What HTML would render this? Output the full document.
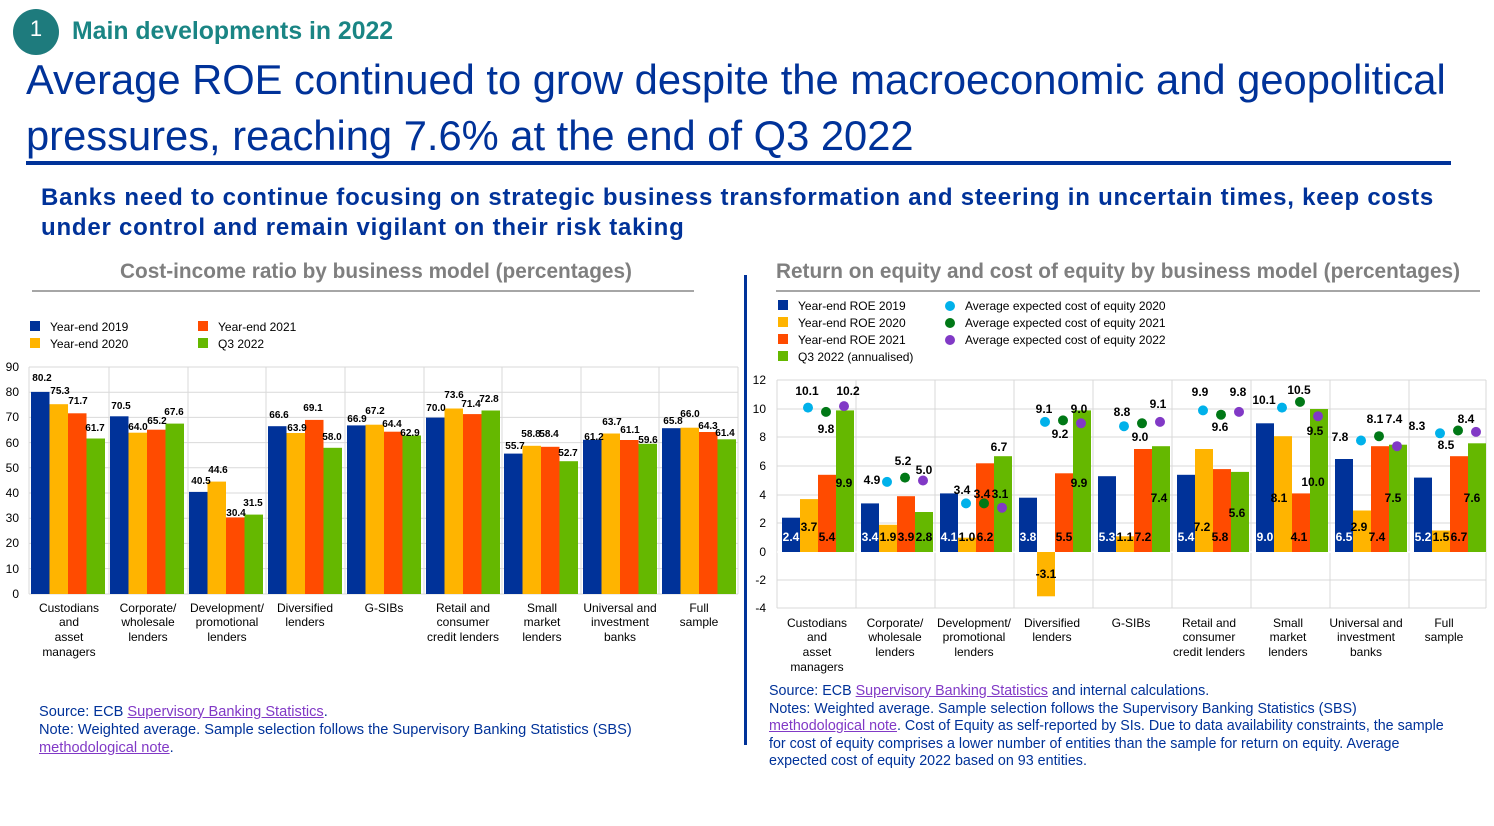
<!DOCTYPE html>
<html><head><meta charset="utf-8"><style>
body{margin:0;width:1494px;height:826px;background:#fff;font-family:"Liberation Sans",sans-serif;overflow:hidden;position:relative}
.a{position:absolute;white-space:nowrap}
a{color:#8139c6;text-decoration:underline}
</style></head><body>
<div class="a" style="left:13px;top:9px;width:46px;height:46px;border-radius:50%;background:#1e7b7d;color:#fff;font-size:22px;text-align:center;line-height:40px">1</div>
<div class="a" style="left:72px;top:18px;color:#1a8584;font-size:24.8px;font-weight:bold">Main developments in 2022</div>
<div class="a" style="left:26px;top:52px;color:#003299;font-size:41.7px;line-height:56px">Average ROE continued to grow despite the macroeconomic and geopolitical<br>pressures, reaching 7.6% at the end of Q3 2022</div>
<div class="a" style="left:26px;top:161px;width:1425px;height:4px;background:#003299"></div>
<div class="a" style="left:41px;top:183px;color:#003299;font-size:24px;font-weight:bold;line-height:30px;letter-spacing:0.78px">Banks need to continue focusing on strategic business transformation and steering in uncertain times, keep costs<br>under control and remain vigilant on their risk taking</div>
<div class="a" style="left:744px;top:275px;width:3px;height:470px;background:#003299"></div>
<div class="a" style="left:39px;top:703px;color:#003299;font-size:14.6px;line-height:18px">Source: ECB <a>Supervisory Banking Statistics</a>.<br>Note: Weighted average. Sample selection follows the Supervisory Banking Statistics (SBS)<br><a>methodological note</a>.</div>
<div class="a" style="left:769px;top:683px;color:#003299;font-size:14.3px;line-height:17.5px">Source: ECB <a>Supervisory Banking Statistics</a> and internal calculations.<br>Notes: Weighted average. Sample selection follows the Supervisory Banking Statistics (SBS)<br><a>methodological note</a>. Cost of Equity as self-reported by SIs. Due to data availability constraints, the sample<br>for cost of equity comprises a lower number of entities than the sample for return on equity. Average<br>expected cost of equity 2022 based on 93 entities.</div>
<svg class="a" style="left:0;top:0" width="1494" height="826" font-family="Liberation Sans, sans-serif">
<g font-size="20.8" font-weight="bold" fill="#7f7f7f">
<text x="376" y="278" text-anchor="middle">Cost-income ratio by business model (percentages)</text>
<text x="1118" y="278" text-anchor="middle">Return on equity and cost of equity by business model (percentages)</text></g>
<rect x="32" y="290" width="662" height="2" fill="#a6a6a6"/><rect x="776" y="290" width="704" height="2" fill="#a6a6a6"/>
<g font-size="12" fill="#000">
<rect x="30" y="321" width="10" height="10" fill="#003299"/><text x="50" y="331">Year-end 2019</text>
<rect x="30" y="338" width="10" height="10" fill="#FFB400"/><text x="50" y="348">Year-end 2020</text>
<rect x="198" y="321" width="10" height="10" fill="#FF4B00"/><text x="218" y="331">Year-end 2021</text>
<rect x="198" y="338" width="10" height="10" fill="#65B800"/><text x="218" y="348">Q3 2022</text>
<rect x="778" y="300" width="10" height="10" fill="#003299"/><text x="798" y="310">Year-end ROE 2019</text>
<rect x="778" y="317" width="10" height="10" fill="#FFB400"/><text x="798" y="327">Year-end ROE 2020</text>
<rect x="778" y="334" width="10" height="10" fill="#FF4B00"/><text x="798" y="344">Year-end ROE 2021</text>
<rect x="778" y="351" width="10" height="10" fill="#65B800"/><text x="798" y="361">Q3 2022 (annualised)</text>
<circle cx="950" cy="306" r="5" fill="#00B1EA"/><text x="965" y="310">Average expected cost of equity 2020</text>
<circle cx="950" cy="323" r="5" fill="#007816"/><text x="965" y="327">Average expected cost of equity 2021</text>
<circle cx="950" cy="340" r="5" fill="#8139C6"/><text x="965" y="344">Average expected cost of equity 2022</text>
</g>
<g stroke="#d9d9d9" stroke-width="1">
<line x1="29" y1="367" x2="738" y2="367"/><line x1="29" y1="392.2" x2="738" y2="392.2"/><line x1="29" y1="417.4" x2="738" y2="417.4"/><line x1="29" y1="442.6" x2="738" y2="442.6"/><line x1="29" y1="467.8" x2="738" y2="467.8"/><line x1="29" y1="493" x2="738" y2="493"/><line x1="29" y1="518.2" x2="738" y2="518.2"/><line x1="29" y1="543.4" x2="738" y2="543.4"/><line x1="29" y1="568.6" x2="738" y2="568.6"/><line x1="29" y1="594" x2="738" y2="594"/>
<line x1="29" y1="367" x2="29" y2="594"/><line x1="109" y1="367" x2="109" y2="594"/><line x1="188" y1="367" x2="188" y2="594"/><line x1="266" y1="367" x2="266" y2="594"/><line x1="345" y1="367" x2="345" y2="594"/><line x1="424" y1="367" x2="424" y2="594"/><line x1="502" y1="367" x2="502" y2="594"/><line x1="581" y1="367" x2="581" y2="594"/><line x1="659" y1="367" x2="659" y2="594"/><line x1="738" y1="367" x2="738" y2="594"/>
</g>
<g font-size="12" text-anchor="end"><text x="19" y="371">90</text><text x="19" y="396">80</text><text x="19" y="421">70</text><text x="19" y="447">60</text><text x="19" y="472">50</text><text x="19" y="497">40</text><text x="19" y="522">30</text><text x="19" y="547">20</text><text x="19" y="573">10</text><text x="19" y="598">0</text></g>
<g>
<rect x="31" y="391.9" width="18.5" height="202.1" fill="#003299"/><rect x="49.5" y="404.2" width="18.5" height="189.8" fill="#FFB400"/><rect x="68" y="413.3" width="18.5" height="180.7" fill="#FF4B00"/><rect x="86.5" y="438.5" width="18.5" height="155.5" fill="#65B800"/>
<rect x="110" y="416.3" width="18.5" height="177.7" fill="#003299"/><rect x="128.5" y="432.7" width="18.5" height="161.3" fill="#FFB400"/><rect x="147" y="429.7" width="18.5" height="164.3" fill="#FF4B00"/><rect x="165.5" y="423.6" width="18.5" height="170.4" fill="#65B800"/>
<rect x="189" y="491.9" width="18.5" height="102.1" fill="#003299"/><rect x="207.5" y="481.6" width="18.5" height="112.4" fill="#FFB400"/><rect x="226" y="517.4" width="18.5" height="76.6" fill="#FF4B00"/><rect x="244.5" y="514.6" width="18.5" height="79.4" fill="#65B800"/>
<rect x="268" y="426.2" width="18.5" height="167.8" fill="#003299"/><rect x="286.5" y="433" width="18.5" height="161" fill="#FFB400"/><rect x="305" y="419.9" width="18.5" height="174.1" fill="#FF4B00"/><rect x="323.5" y="447.8" width="18.5" height="146.2" fill="#65B800"/>
<rect x="347" y="425.4" width="18.5" height="168.6" fill="#003299"/><rect x="365.5" y="424.7" width="18.5" height="169.3" fill="#FFB400"/><rect x="384" y="431.7" width="18.5" height="162.3" fill="#FF4B00"/><rect x="402.5" y="435.5" width="18.5" height="158.5" fill="#65B800"/>
<rect x="426" y="417.6" width="18.5" height="176.4" fill="#003299"/><rect x="444.5" y="408.5" width="18.5" height="185.5" fill="#FFB400"/><rect x="463" y="414.1" width="18.5" height="179.9" fill="#FF4B00"/><rect x="481.5" y="410.5" width="18.5" height="183.5" fill="#65B800"/>
<rect x="504" y="453.6" width="18.5" height="140.4" fill="#003299"/><rect x="522.5" y="445.8" width="18.5" height="148.2" fill="#FFB400"/><rect x="541" y="446.8" width="18.5" height="147.2" fill="#FF4B00"/><rect x="559.5" y="461.2" width="18.5" height="132.8" fill="#65B800"/>
<rect x="583" y="439.8" width="18.5" height="154.2" fill="#003299"/><rect x="601.5" y="433.5" width="18.5" height="160.5" fill="#FFB400"/><rect x="620" y="440" width="18.5" height="154" fill="#FF4B00"/><rect x="638.5" y="443.8" width="18.5" height="150.2" fill="#65B800"/>
<rect x="662" y="428.2" width="18.5" height="165.8" fill="#003299"/><rect x="680.5" y="427.7" width="18.5" height="166.3" fill="#FFB400"/><rect x="699" y="432" width="18.5" height="162" fill="#FF4B00"/><rect x="717.5" y="439.3" width="18.5" height="154.7" fill="#65B800"/>
</g>
<g font-size="10" font-weight="bold" text-anchor="middle">
<text x="42" y="381">80.2</text><text x="60" y="394">75.3</text><text x="78" y="404">71.7</text><text x="95" y="431">61.7</text>
<text x="121" y="409">70.5</text><text x="138" y="430">64.0</text><text x="157" y="424">65.2</text><text x="174" y="415">67.6</text>
<text x="201" y="484">40.5</text><text x="218" y="473">44.6</text><text x="236" y="516">30.4</text><text x="253" y="506">31.5</text>
<text x="279" y="418">66.6</text><text x="297" y="431">63.9</text><text x="313" y="411">69.1</text><text x="332" y="440">58.0</text>
<text x="357" y="422">66.9</text><text x="375" y="414">67.2</text><text x="392" y="427">64.4</text><text x="410" y="436">62.9</text>
<text x="436" y="411">70.0</text><text x="454" y="398">73.6</text><text x="471" y="407">71.4</text><text x="489" y="402">72.8</text>
<text x="515" y="449">55.7</text><text x="531" y="437">58.8</text><text x="549" y="437">58.4</text><text x="568" y="456">52.7</text>
<text x="594" y="440">61.2</text><text x="612" y="425">63.7</text><text x="630" y="433">61.1</text><text x="648" y="443">59.6</text>
<text x="673" y="424">65.8</text><text x="690" y="417">66.0</text><text x="708" y="429">64.3</text><text x="725" y="436">61.4</text>
</g>
<g font-size="12" text-anchor="middle">
<text x="69" y="612">Custodians</text><text x="69" y="626">and</text><text x="69" y="641">asset</text><text x="69" y="656">managers</text>
<text x="148" y="612">Corporate/</text><text x="148" y="626">wholesale</text><text x="148" y="641">lenders</text>
<text x="227" y="612">Development/</text><text x="227" y="626">promotional</text><text x="227" y="641">lenders</text>
<text x="305" y="612">Diversified</text><text x="305" y="626">lenders</text>
<text x="384" y="612">G-SIBs</text>
<text x="463" y="612">Retail and</text><text x="463" y="626">consumer</text><text x="463" y="641">credit lenders</text>
<text x="542" y="612">Small</text><text x="542" y="626">market</text><text x="542" y="641">lenders</text>
<text x="620" y="612">Universal and</text><text x="620" y="626">investment</text><text x="620" y="641">banks</text>
<text x="699" y="612">Full</text><text x="699" y="626">sample</text>
</g>
<g stroke="#d9d9d9" stroke-width="1">
<line x1="777" y1="380" x2="1486" y2="380"/><line x1="777" y1="409" x2="1486" y2="409"/><line x1="777" y1="437" x2="1486" y2="437"/><line x1="777" y1="466" x2="1486" y2="466"/><line x1="777" y1="495" x2="1486" y2="495"/><line x1="777" y1="523" x2="1486" y2="523"/><line x1="777" y1="552" x2="1486" y2="552"/><line x1="777" y1="580" x2="1486" y2="580"/><line x1="777" y1="608" x2="1486" y2="608"/>
<line x1="777" y1="380" x2="777" y2="608"/><line x1="856" y1="380" x2="856" y2="608"/><line x1="935" y1="380" x2="935" y2="608"/><line x1="1014" y1="380" x2="1014" y2="608"/><line x1="1093" y1="380" x2="1093" y2="608"/><line x1="1172" y1="380" x2="1172" y2="608"/><line x1="1251" y1="380" x2="1251" y2="608"/><line x1="1330" y1="380" x2="1330" y2="608"/><line x1="1409" y1="380" x2="1409" y2="608"/><line x1="1486" y1="380" x2="1486" y2="608"/>
</g>
<line x1="777" y1="552" x2="1486" y2="552" stroke="#fff" stroke-width="1.5"/>
<g font-size="12" text-anchor="end"><text x="766" y="384">12</text><text x="766" y="413">10</text><text x="766" y="441">8</text><text x="766" y="470">6</text><text x="766" y="499">4</text><text x="766" y="527">2</text><text x="766" y="556">0</text><text x="766" y="584">-2</text><text x="766" y="612">-4</text></g>
<g>
<rect x="782" y="517.7" width="18" height="34.3" fill="#003299"/><rect x="800" y="499.1" width="18" height="52.9" fill="#FFB400"/><rect x="818" y="474.8" width="18" height="77.2" fill="#FF4B00"/><rect x="836" y="410.4" width="18" height="141.6" fill="#65B800"/>
<rect x="861" y="503.4" width="18" height="48.6" fill="#003299"/><rect x="879" y="524.8" width="18" height="27.2" fill="#FFB400"/><rect x="897" y="496.2" width="18" height="55.8" fill="#FF4B00"/><rect x="915" y="512" width="18" height="40" fill="#65B800"/>
<rect x="940" y="493.4" width="18" height="58.6" fill="#003299"/><rect x="958" y="537.7" width="18" height="14.3" fill="#FFB400"/><rect x="976" y="463.3" width="18" height="88.7" fill="#FF4B00"/><rect x="994" y="456.2" width="18" height="95.8" fill="#65B800"/>
<rect x="1019" y="497.7" width="18" height="54.3" fill="#003299"/><rect x="1037" y="552" width="18" height="44.3" fill="#FFB400"/><rect x="1055" y="473.3" width="18" height="78.7" fill="#FF4B00"/><rect x="1073" y="410.4" width="18" height="141.6" fill="#65B800"/>
<rect x="1098" y="476.2" width="18" height="75.8" fill="#003299"/><rect x="1116" y="536.3" width="18" height="15.7" fill="#FFB400"/><rect x="1134" y="449" width="18" height="103" fill="#FF4B00"/><rect x="1152" y="446.2" width="18" height="105.8" fill="#65B800"/>
<rect x="1177" y="474.8" width="18" height="77.2" fill="#003299"/><rect x="1195" y="449" width="18" height="103" fill="#FFB400"/><rect x="1213" y="469.1" width="18" height="82.9" fill="#FF4B00"/><rect x="1231" y="471.9" width="18" height="80.1" fill="#65B800"/>
<rect x="1256" y="423.3" width="18" height="128.7" fill="#003299"/><rect x="1274" y="436.2" width="18" height="115.8" fill="#FFB400"/><rect x="1292" y="493.4" width="18" height="58.6" fill="#FF4B00"/><rect x="1310" y="409" width="18" height="143" fill="#65B800"/>
<rect x="1335" y="459" width="18" height="93" fill="#003299"/><rect x="1353" y="510.5" width="18" height="41.5" fill="#FFB400"/><rect x="1371" y="446.2" width="18" height="105.8" fill="#FF4B00"/><rect x="1389" y="444.7" width="18" height="107.3" fill="#65B800"/>
<rect x="1414" y="477.6" width="18" height="74.4" fill="#003299"/><rect x="1432" y="530.5" width="18" height="21.5" fill="#FFB400"/><rect x="1450" y="456.2" width="18" height="95.8" fill="#FF4B00"/><rect x="1468" y="443.3" width="18" height="108.7" fill="#65B800"/>
</g>
<g>
<circle cx="808" cy="407.6" r="5" fill="#00B1EA"/><circle cx="826" cy="411.9" r="5" fill="#007816"/><circle cx="844" cy="406.1" r="5" fill="#8139C6"/>
<circle cx="887" cy="481.9" r="5" fill="#00B1EA"/><circle cx="905" cy="477.6" r="5" fill="#007816"/><circle cx="923" cy="480.5" r="5" fill="#8139C6"/>
<circle cx="966" cy="503.4" r="5" fill="#00B1EA"/><circle cx="984" cy="503.4" r="5" fill="#007816"/><circle cx="1002" cy="507.7" r="5" fill="#8139C6"/>
<circle cx="1045" cy="421.9" r="5" fill="#00B1EA"/><circle cx="1063" cy="420.4" r="5" fill="#007816"/><circle cx="1081" cy="423.3" r="5" fill="#8139C6"/>
<circle cx="1124" cy="426.2" r="5" fill="#00B1EA"/><circle cx="1142" cy="423.3" r="5" fill="#007816"/><circle cx="1160" cy="421.9" r="5" fill="#8139C6"/>
<circle cx="1203" cy="410.4" r="5" fill="#00B1EA"/><circle cx="1221" cy="414.7" r="5" fill="#007816"/><circle cx="1239" cy="411.9" r="5" fill="#8139C6"/>
<circle cx="1282" cy="407.6" r="5" fill="#00B1EA"/><circle cx="1300" cy="401.9" r="5" fill="#007816"/><circle cx="1318" cy="416.2" r="5" fill="#8139C6"/>
<circle cx="1361" cy="440.5" r="5" fill="#00B1EA"/><circle cx="1379" cy="436.2" r="5" fill="#007816"/><circle cx="1397" cy="446.2" r="5" fill="#8139C6"/>
<circle cx="1440" cy="433.3" r="5" fill="#00B1EA"/><circle cx="1458" cy="430.5" r="5" fill="#007816"/><circle cx="1476" cy="431.9" r="5" fill="#8139C6"/>
</g>
<g font-size="12" font-weight="bold" text-anchor="middle">
<g fill="#fff"><text x="791" y="541">2.4</text><text x="870" y="541">3.4</text><text x="949" y="541">4.1</text><text x="1028" y="541">3.8</text><text x="1107" y="541">5.3</text><text x="1186" y="541">5.4</text><text x="1265" y="541">9.0</text><text x="1344" y="541">6.5</text><text x="1423" y="541">5.2</text></g>
<text x="809" y="531">3.7</text><text x="827" y="541">5.4</text><text x="844" y="487">9.9</text>
<text x="888" y="541">1.9</text><text x="906" y="541">3.9</text><text x="924" y="541">2.8</text>
<text x="967" y="541">1.0</text><text x="985" y="541">6.2</text><text x="999" y="451">6.7</text>
<text x="1046" y="578">-3.1</text><text x="1064" y="541">5.5</text><text x="1079" y="487">9.9</text>
<text x="1125" y="541">1.1</text><text x="1143" y="541">7.2</text><text x="1159" y="502">7.4</text>
<text x="1202" y="531">7.2</text><text x="1220" y="541">5.8</text><text x="1237" y="517">5.6</text>
<text x="1279" y="502">8.1</text><text x="1299" y="541">4.1</text><text x="1313" y="486">10.0</text>
<text x="1359" y="531">2.9</text><text x="1377" y="541">7.4</text><text x="1393" y="502">7.5</text>
<text x="1441" y="541">1.5</text><text x="1459" y="541">6.7</text><text x="1472" y="502">7.6</text>
<text x="807" y="395">10.1</text><text x="826" y="433">9.8</text><text x="848" y="395">10.2</text>
<text x="872" y="484">4.9</text><text x="903" y="465">5.2</text><text x="924" y="474">5.0</text>
<text x="962" y="494">3.4</text><text x="982" y="498">3.4</text><text x="1000" y="498">3.1</text>
<text x="1044" y="413">9.1</text><text x="1060" y="438">9.2</text><text x="1079" y="413">9.0</text>
<text x="1122" y="416">8.8</text><text x="1140" y="441">9.0</text><text x="1158" y="408">9.1</text>
<text x="1200" y="396">9.9</text><text x="1220" y="431">9.6</text><text x="1238" y="396">9.8</text>
<text x="1264" y="404">10.1</text><text x="1299" y="394">10.5</text><text x="1315" y="435">9.5</text>
<text x="1340" y="441">7.8</text><text x="1375" y="423">8.1</text><text x="1394" y="423">7.4</text>
<text x="1417" y="430">8.3</text><text x="1446" y="449">8.5</text><text x="1466" y="423">8.4</text>
</g>
<g font-size="12" text-anchor="middle">
<text x="817" y="627">Custodians</text><text x="817" y="641">and</text><text x="817" y="656">asset</text><text x="817" y="671">managers</text>
<text x="895" y="627">Corporate/</text><text x="895" y="641">wholesale</text><text x="895" y="656">lenders</text>
<text x="974" y="627">Development/</text><text x="974" y="641">promotional</text><text x="974" y="656">lenders</text>
<text x="1052" y="627">Diversified</text><text x="1052" y="641">lenders</text>
<text x="1131" y="627">G-SIBs</text>
<text x="1209" y="627">Retail and</text><text x="1209" y="641">consumer</text><text x="1209" y="656">credit lenders</text>
<text x="1288" y="627">Small</text><text x="1288" y="641">market</text><text x="1288" y="656">lenders</text>
<text x="1366" y="627">Universal and</text><text x="1366" y="641">investment</text><text x="1366" y="656">banks</text>
<text x="1444" y="627">Full</text><text x="1444" y="641">sample</text>
</g>
</svg>
</body></html>
